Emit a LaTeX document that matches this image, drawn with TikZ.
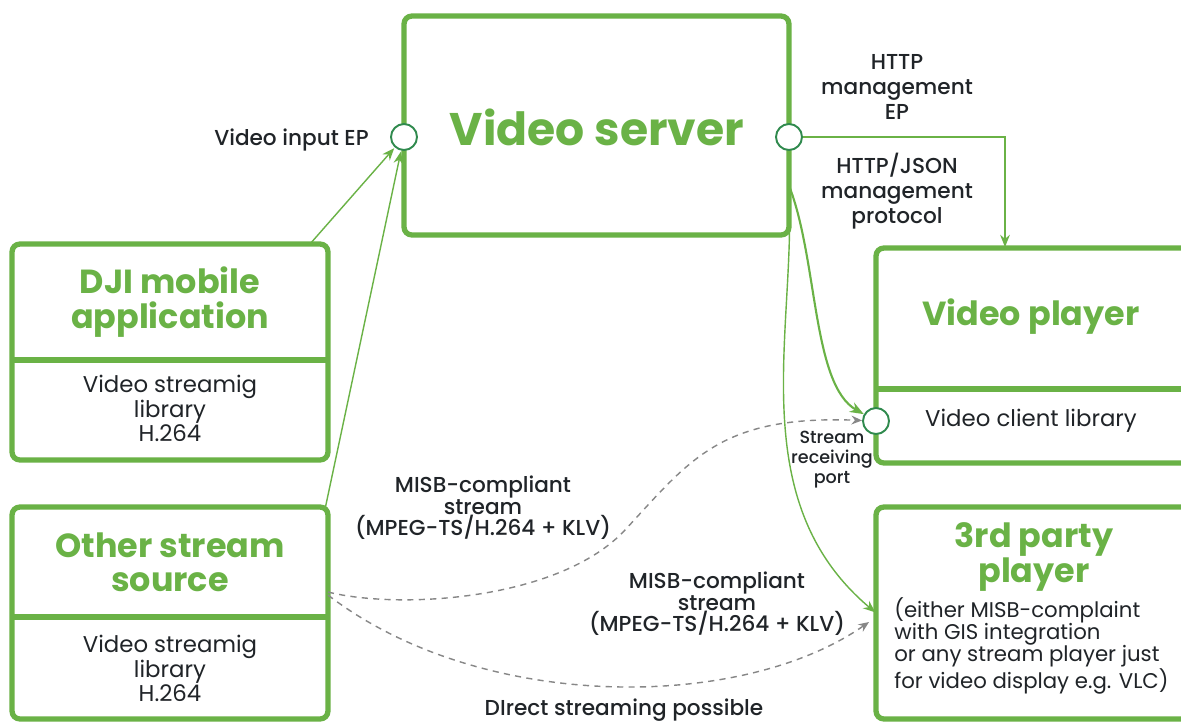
\documentclass[tikz,border=0pt]{standalone}
\usepackage{fontspec}
\setmainfont{Poppins}
\newfontfamily\medfont{Poppins}[UprightFont={* Medium}]
\usetikzlibrary{arrows.meta}
\definecolor{vgreen}{RGB}{106,178,70}
\definecolor{pgreen}{RGB}{48,138,78}
\definecolor{txt}{RGB}{32,36,40}
\definecolor{dgray}{RGB}{135,135,135}
\tikzset{
 box/.style={draw=vgreen, line width=3pt, rounded corners=4.5pt, inner sep=0pt, outer sep=0pt},
 divider/.style={draw=vgreen, line width=3pt},
 ttl/.style={text=vgreen, font=\bfseries\fontsize{19}{19.5}\selectfont, align=center, inner sep=0pt},
 body/.style={text=txt, font=\fontsize{13}{13.4}\selectfont, align=center, inner sep=0pt},
 lbl/.style={text=txt, font=\medfont\fontsize{12.3}{14.2}\selectfont, align=center, inner sep=0pt},
 slbl/.style={text=txt, font=\medfont\fontsize{12.3}{12.2}\selectfont, align=center, inner sep=0pt},
 port/.style={circle, draw=pgreen, line width=1.1pt, fill=white, minimum size=0.52cm, inner sep=0pt},
 flow/.style={draw=vgreen, line width=0.8pt, -{Stealth[length=7pt,width=5.5pt]}, shorten >=0.5pt},
 thickflow/.style={draw=vgreen, line width=1.2pt, -{Stealth[length=8pt,width=6pt]}},
 dflow/.style={draw=dgray, line width=0.8pt, dash pattern=on 3.5pt off 3pt, -{Stealth[length=6pt,width=5pt]}},
}
\begin{document}
\begin{tikzpicture}[x=0.02cm, y=-0.02cm]
\useasboundingbox (0,0) rectangle (1181,724);
\fill[white] (0,0) rectangle (1181,724);
\clip (0,0) rectangle (1181,724);

% boxes
\node[box, minimum width=7.7cm, minimum height=4.38cm] (server) at (596.5,125.5) {};
\node[box, minimum width=6.32cm, minimum height=4.32cm] (dji) at (170,352) {};
\node[box, minimum width=6.32cm, minimum height=4.24cm] (other) at (170,613) {};
\node[box, minimum width=6.38cm, minimum height=4.3cm] (player) at (1035.5,355.5) {};
\node[box, minimum width=6.38cm, minimum height=4.24cm] (third) at (1035.5,613) {};

\draw[divider] (dji.west |- 0,360) -- (dji.east |- 0,360);
\draw[divider] (other.west |- 0,617) -- (other.east |- 0,617);
\draw[divider] (player.west |- 0,389) -- (player.east |- 0,389);

% titles
\node[text=vgreen, font=\bfseries\fontsize{26}{28}\selectfont, inner sep=0pt] (servertitle) at (597,127) {Video server};
\node[ttl] (djititle) at (170,302) {DJI mobile\\application};
\node[ttl] (othertitle) at (170,562) {Other stream\\source};
\node[ttl] (playertitle) at (1031,317) {Video player};
\node[ttl] (thirdtitle) at (1034,557) {3rd party\\player};

% body texts
\node[body] (djilib) at (170,408) {Video streamig\\library\\H.264};
\node[body] (otherlib) at (170,668) {Video streamig\\library\\H.264};
\node[body] (playerlib) at (1031,421) {Video client library};
\node[text=txt, font=\fontsize{12.1}{12.5}\selectfont, align=left, inner sep=0pt, anchor=west] (thirddesc) at (894,646) {(either MISB-complaint\\with GIS integration\\or any stream player just\\for video display e.g. VLC)};

% ports
\node[port] (in) at (404,137) {};
\node[port] (out) at (789,137) {};
\node[port] (recv) at (876,421) {};

% labels
\node[lbl, anchor=east] (inlbl) at (369,140) {Video input EP};
\node[lbl] (eplbl) at (897,87) {HTTP\\management\\EP};
\node[lbl] (jsonlbl) at (897,191) {HTTP/JSON\\management\\protocol};
\node[text=txt, font=\medfont\fontsize{10}{11.4}\selectfont, align=center, inner sep=0pt] (recvlbl) at (832,460) {Stream\\receiving\\port};
\node[slbl] (misb1) at (483,508) {MISB-compliant\\stream\\(MPEG-TS/H.264 + KLV)};
\node[slbl] (misb2) at (717,604) {MISB-compliant\\stream\\(MPEG-TS/H.264 + KLV)};
\node[lbl] (direct) at (624,710) {DIrect streaming possible};

% connectors
\draw[flow] ([xshift=-0.36cm]dji.north east) -- (in);
\draw[flow] ([xshift=-0.05cm]other.north east) -- (in);
\draw[flow] (out) -| ([xshift=-0.61cm]player.north);
\draw[thickflow] ([yshift=-1.2cm]server.east) .. controls (818,260) and (812,385) .. (recv);
\draw[flow] ([yshift=-1.3cm]server.east) .. controls (796,330) and (742,500) .. (third.west);
\draw[dflow] ([yshift=0.42cm]other.east) .. controls (400,610) and (560,600) .. (625,530) .. controls (690,460) and (720,415) .. (recv);
\draw[dflow] ([yshift=0.36cm]other.east) .. controls (480,712) and (740,712) .. ([xshift=-0.14cm,yshift=-0.18cm]third.west);
\end{tikzpicture}
\end{document}
